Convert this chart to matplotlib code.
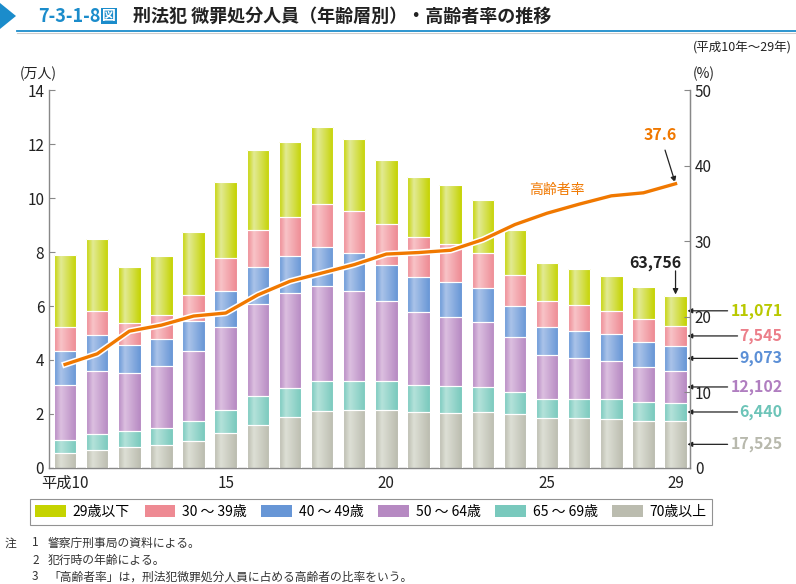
import matplotlib
matplotlib.use('Agg')
import matplotlib.pyplot as plt
import matplotlib.patheffects as pe
from matplotlib.colors import LinearSegmentedColormap
from matplotlib.patches import Polygon
import numpy as np

plt.rcParams['font.family'] = ['Noto Sans CJK JP', 'DejaVu Sans']
plt.rcParams['axes.unicode_minus'] = False

# 年次 (平成)
years = list(range(10, 30))
tick_years = [10, 15, 20, 25, 29]
tick_labels = ['平成10', '15', '20', '25', '29']

# 年齢層別 微罪処分人員 (万人)
age_labels = ['29歳以下', '30 ～ 39歳', '40 ～ 49歳', '50 ～ 64歳', '65 ～ 69歳', '70歳以上']
under29 = [2.65, 2.66, 2.09, 2.21, 2.32, 2.84, 2.96, 2.80, 2.86, 2.67,
           2.37, 2.23, 2.17, 1.95, 1.67, 1.40, 1.34, 1.29, 1.17, 1.1071]
age30_39 = [0.90, 0.92, 0.83, 0.89, 0.98, 1.22, 1.38, 1.42, 1.60, 1.56,
            1.52, 1.45, 1.40, 1.31, 1.16, 0.97, 0.93, 0.86, 0.86, 0.7545]
age40_49 = [1.24, 1.31, 1.02, 1.01, 1.11, 1.31, 1.36, 1.39, 1.43, 1.39,
            1.31, 1.32, 1.32, 1.25, 1.13, 1.04, 1.01, 1.02, 0.94, 0.9073]
age50_64 = [2.03, 2.34, 2.16, 2.28, 2.57, 3.08, 3.43, 3.52, 3.54, 3.33,
            2.99, 2.69, 2.56, 2.43, 2.05, 1.63, 1.51, 1.38, 1.30, 1.2102]
age65_69 = [0.50, 0.58, 0.60, 0.64, 0.74, 0.86, 1.05, 1.07, 1.11, 1.08,
            1.08, 1.02, 0.98, 0.91, 0.81, 0.71, 0.72, 0.74, 0.68, 0.6440]
over70 = [0.555, 0.68, 0.76, 0.84, 1.01, 1.30, 1.60, 1.89, 2.10, 2.16,
          2.13, 2.06, 2.04, 2.08, 2.00, 1.84, 1.85, 1.83, 1.75, 1.7525]

# 高齢者率 (%)
elderly_rate = [13.7, 15.1, 18.1, 18.9, 20.1, 20.5, 22.9, 24.7, 25.8, 26.9,
                28.3, 28.5, 28.8, 30.2, 32.2, 33.7, 34.9, 36.0, 36.4, 37.6]

# 平成29年の実数
last_labels = ['11,071', '7,545', '9,073', '12,102', '6,440', '17,525']
last_total = '63,756'

# 色
base_colors = ['#c5d300', '#ee8a93', '#6796d6', '#b689c2', '#79c9bd', '#bbbcaf']
light_colors = ['#e2ea94', '#f8c3c7', '#aac3e9', '#dcbfe0', '#b4e2da', '#dddfd5']
text_colors = ['#b9c800', '#ec7f8a', '#5b8fd6', '#b07ec0', '#6cc4b8', '#b8b9ad']
line_color = '#f07800'

fig = plt.figure(figsize=(7.96, 5.84), dpi=100)
W, H = 796, 584


def fx(px):
    return px / W


def fy(py):
    return 1 - py / H


ax = fig.add_axes([fx(49), fy(468), fx(690) - fx(49), fy(90) - fy(468)])
x = np.arange(len(years))
bar_w = 0.7

# 下から積み上げ
series_bottom_up = [over70, age65_69, age50_64, age40_49, age30_39, under29]
colors_bottom_up = base_colors[::-1]
lights_bottom_up = light_colors[::-1]
grad = np.linspace(0, 1, 64).reshape(1, -1)
bottom = np.zeros(len(years))
for vals, c, lc in zip(series_bottom_up, colors_bottom_up, lights_bottom_up):
    vals = np.array(vals)
    bars = ax.bar(x, vals, bar_w, bottom=bottom, color=c, edgecolor='white', linewidth=0.8, zorder=2)
    cmap = LinearSegmentedColormap.from_list('g', [(0, c), (0.3, lc), (1, c)])
    for b in bars:
        x0, y0 = b.get_x(), b.get_y()
        im = ax.imshow(grad, cmap=cmap, aspect='auto', zorder=2.5,
                       extent=[x0, x0 + b.get_width(), y0, y0 + b.get_height()])
        im.set_clip_path(b)
        ax.add_patch(plt.Rectangle((x0, y0), b.get_width(), b.get_height(), fill=False,
                                   edgecolor='white', linewidth=0.8, zorder=3))
    bottom += vals

ax.set_xlim(-0.5, 19.45)
ax.set_ylim(0, 14)
ax.set_yticks(np.arange(0, 15, 2))
ax.set_xticks([years.index(t) for t in tick_years])
ax.set_xticklabels(tick_labels)
ax.tick_params(axis='x', length=0, labelsize=11, pad=5, colors='#222222')
ax.tick_params(axis='y', direction='in', length=4, labelsize=11, colors='#222222', color='#888888')
ax.spines['top'].set_visible(False)
for s in ['left', 'bottom', 'right']:
    ax.spines[s].set_color('#888888')
    ax.spines[s].set_linewidth(1.0)

ax2 = ax.twinx()
ax2.set_ylim(0, 50)
ax2.set_yticks(np.arange(0, 51, 10))
ax2.tick_params(axis='y', direction='in', length=4, labelsize=11, colors='#222222', color='#888888')
for s in ['top', 'left', 'bottom']:
    ax2.spines[s].set_visible(False)
ax2.spines['right'].set_color('#888888')
ax2.plot(x, elderly_rate, color=line_color, linewidth=2.4, zorder=5,
         path_effects=[pe.Stroke(linewidth=4.6, foreground='white'), pe.Normal()])
ax2.text(15.32, 36.8, '高齢者率', color=line_color, fontsize=10, ha='center', va='center')

# 37.6 の注記
ax2.annotate('37.6', xy=(19, elderly_rate[-1]), xytext=(18.53, 44.0), color=line_color,
             fontsize=11.5, fontweight='bold', ha='center', va='center',
             arrowprops=dict(arrowstyle='-|>', color='#222222', lw=0.9, mutation_scale=8,
                             shrinkA=3, shrinkB=1))

# 63,756 の注記
total_last = sum(v[-1] for v in series_bottom_up)
ax.text(18.38, 7.6, last_total, color='#222222', fontsize=11.5, fontweight='bold',
        ha='center', va='center')
ax.annotate('', xy=(19, total_last), xytext=(19, 7.3),
            arrowprops=dict(arrowstyle='-|>', color='#222222', lw=0.9, mutation_scale=8,
                            shrinkA=0, shrinkB=1))

# 平成29年の各年齢層の数値
cum = 0
mids = []
for vals in series_bottom_up:
    mids.append(cum + vals[-1] / 2)
    cum += vals[-1]
mids = mids[::-1]
for lab, m, tc in zip(last_labels, mids, text_colors):
    tail = 20.62 if len(lab) == 6 else 20.93
    ax.annotate('', xy=(19.37, m), xytext=(tail, m), annotation_clip=False,
                arrowprops=dict(arrowstyle='-|>', color='#222222', lw=0.9, mutation_scale=7,
                                shrinkA=0, shrinkB=0))
    ax.text(22.33, m, lab, color=tc, fontsize=11.5, fontweight='bold',
            ha='right', va='center', clip_on=False)

# 軸の単位
fig.text(fx(38), fy(74), '(万人)', fontsize=10, ha='center', va='center', color='#222222')
fig.text(fx(704), fy(74), '(%)', fontsize=10, ha='center', va='center', color='#222222')
fig.text(fx(792), fy(48), '(平成10年～29年)', fontsize=9, ha='right', va='center', color='#222222')

# タイトル
fig.patches.append(Polygon([[fx(0), fy(3)], [fx(0), fy(29)], [fx(16), fy(16)]], closed=True,
                           transform=fig.transFigure, facecolor='#1b8ccb', edgecolor='none'))
fig.add_artist(plt.Line2D([fx(17), fx(796)], [fy(31), fy(31)], transform=fig.transFigure,
                          color='#1b8ccb', linewidth=1.3))
fig.add_artist(plt.Line2D([fx(17), fx(796)], [fy(33), fy(33)], transform=fig.transFigure,
                          color='#cccccc', linewidth=0.8))
fig.text(fx(38), fy(16), '7-3-1-8', fontsize=13, fontweight='bold', color='#1b8ccb',
         ha='left', va='center')
fig.text(fx(102), fy(16), '図', fontsize=10, fontweight='bold', color='white',
         ha='left', va='center',
         bbox=dict(boxstyle='square,pad=0.08', facecolor='#1b8ccb', edgecolor='none'))
fig.text(fx(133), fy(16), '刑法犯 微罪処分人員（年齢層別）・高齢者率の推移', fontsize=13,
         fontweight='bold', color='#222222', ha='left', va='center')

# 凡例
handles = [plt.Rectangle((0, 0), 1, 1, facecolor=c, edgecolor='none') for c in base_colors]
leg = fig.legend(handles, age_labels, loc='center', bbox_to_anchor=(fx(371), fy(512)), ncol=6,
                 fontsize=10, frameon=True, fancybox=False, edgecolor='#777777',
                 handlelength=2.2, handleheight=0.9, columnspacing=1.05, handletextpad=0.5,
                 borderpad=0.4)
leg.get_frame().set_linewidth(0.8)

# 注
notes = ['警察庁刑事局の資料による。', '犯行時の年齢による。',
         '「高齢者率」は，刑法犯微罪処分人員に占める高齢者の比率をいう。']
fig.text(fx(5), fy(543), '注', fontsize=8.5, ha='left', va='center', color='#333333')
for i, n in enumerate(notes):
    yy = fy(543 + 17 * i)
    fig.text(fx(32), yy, str(i + 1), fontsize=8.5, ha='left', va='center', color='#333333')
    fig.text(fx(48), yy, n, fontsize=8.5, ha='left', va='center', color='#333333')

fig.savefig('out.png', dpi=100)
